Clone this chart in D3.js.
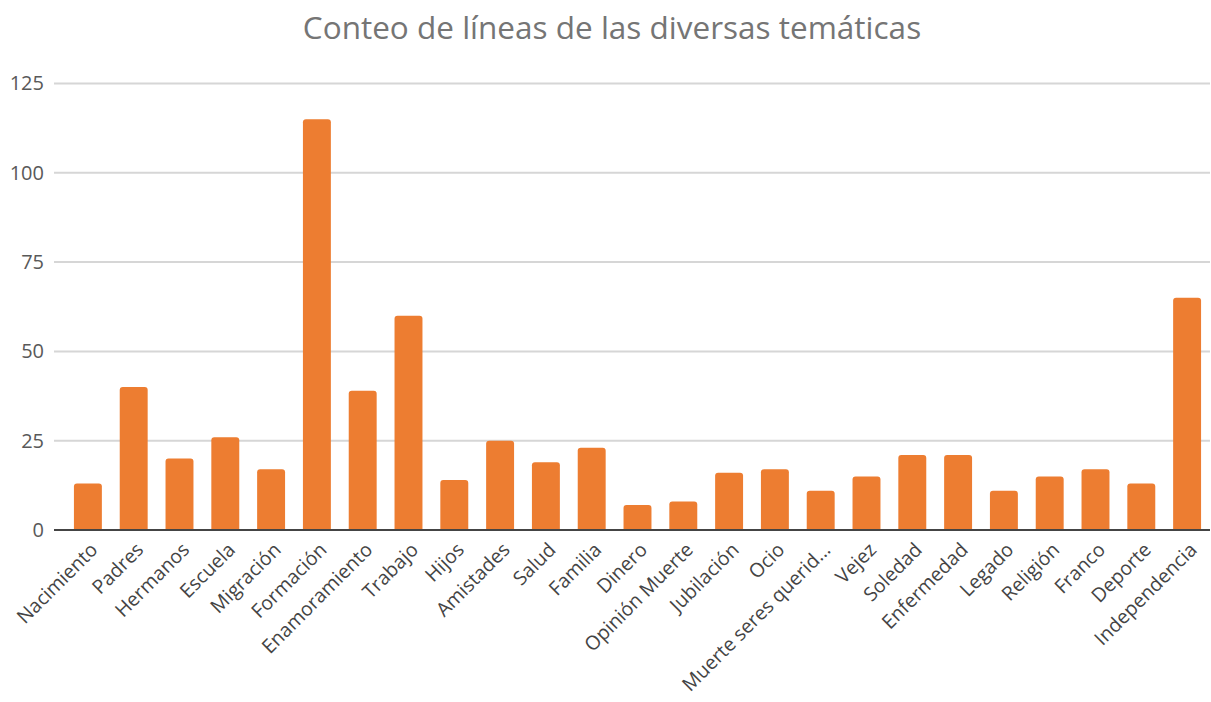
<!DOCTYPE html>
<html>
<head>
<meta charset="utf-8">
<script src="https://cdn.jsdelivr.net/npm/d3@7"></script>
<style>
  html, body { margin: 0; padding: 0; background: #ffffff; }
  svg { display: block; }
</style>
</head>
<body>
<svg id="chart" width="1211" height="702"></svg>
<script>
// Themes counted across the interviews and their number of lines
const categories = [
  "Nacimiento", "Padres", "Hermanos", "Escuela", "Migración", "Formación",
  "Enamoramiento", "Trabajo", "Hijos", "Amistades", "Salud", "Familia",
  "Dinero", "Opinión Muerte", "Jubilación", "Ocio", "Muerte seres querid...",
  "Vejez", "Soledad", "Enfermedad", "Legado", "Religión", "Franco",
  "Deporte", "Independencia"
];
const lineCounts = [
  13, 40, 20, 26, 17, 115,
  39, 60, 14, 25, 19, 23,
  7, 8, 16, 17, 11,
  15, 21, 21, 11, 15, 17,
  13, 65
];
const yTicks = [0, 25, 50, 75, 100, 125];
const title = "Conteo de líneas de las diversas temáticas";

const svg = d3.select("#chart");
const font = "'Open Sans', 'Noto Sans', sans-serif";

const gridLeft = 54, gridRight = 1210;
const x = d3.scaleBand()
  .domain(categories)
  .range([65, 1210])
  .paddingInner(0.39)
  .paddingOuter(0.195);
const y = d3.scaleLinear().domain([0, 125]).range([530, 83.5]);

// Title
svg.append("text")
  .attr("x", 612)
  .attr("y", 39)
  .attr("text-anchor", "middle")
  .attr("font-family", font)
  .attr("font-size", 31.5)
  .attr("fill", "#757575")
  .text(title);

// Horizontal gridlines
svg.append("g")
  .selectAll("line")
  .data(yTicks.filter(d => d !== 0))
  .join("line")
  .attr("x1", gridLeft)
  .attr("x2", gridRight)
  .attr("y1", d => y(d))
  .attr("y2", d => y(d))
  .attr("stroke", "#d6d6d6")
  .attr("stroke-width", 2);

// Y axis labels
const yAxis = d3.axisLeft(y).tickValues(yTicks).tickSize(0).tickPadding(0);
const yg = svg.append("g")
  .attr("transform", `translate(${gridLeft - 10},0)`)
  .call(yAxis);
yg.select(".domain").remove();
yg.selectAll("text")
  .attr("font-family", font)
  .attr("font-size", 20)
  .attr("fill", "#595959");

// Bars with rounded top corners
const r = 3;
function barPath(d, i) {
  const x0 = x(categories[i]);
  const w = x.bandwidth();
  const yt = y(d);
  const yb = y(0);
  return `M${x0},${yb} L${x0},${yt + r} Q${x0},${yt} ${x0 + r},${yt} ` +
         `L${x0 + w - r},${yt} Q${x0 + w},${yt} ${x0 + w},${yt + r} L${x0 + w},${yb} Z`;
}
svg.append("g")
  .selectAll("path")
  .data(lineCounts)
  .join("path")
  .attr("d", (d, i) => barPath(d, i))
  .attr("fill", "#ed7d31");

// Baseline
svg.append("line")
  .attr("x1", gridLeft)
  .attr("x2", gridRight)
  .attr("y1", y(0))
  .attr("y2", y(0))
  .attr("stroke", "#444444")
  .attr("stroke-width", 2);

// X axis labels, rotated
const xAxis = d3.axisBottom(x).tickSize(0).tickPadding(0);
const xg = svg.append("g")
  .attr("transform", `translate(0,${y(0)})`)
  .call(xAxis);
xg.select(".domain").remove();
xg.selectAll("text")
  .attr("font-family", font)
  .attr("font-size", 19.5)
  .attr("fill", "#444444")
  .attr("text-anchor", "end")
  .attr("dy", null)
  .attr("y", null)
  .attr("transform", "translate(11,21) rotate(-45)");
</script>
</body>
</html>
